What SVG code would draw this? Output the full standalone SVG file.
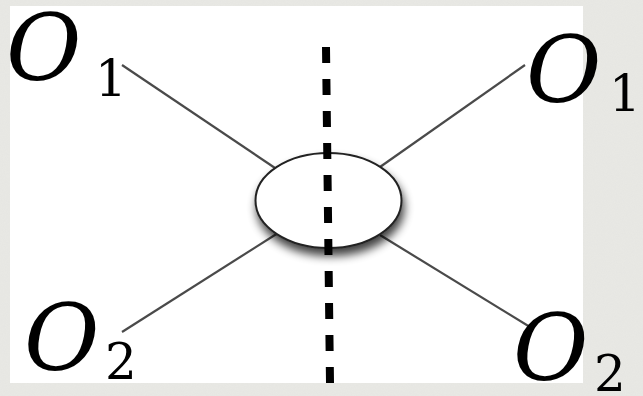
<svg xmlns="http://www.w3.org/2000/svg" width="643" height="396" viewBox="0 0 643 396">
<style>
text{font-family:"DejaVu Serif",serif;fill:#000}
.lbl{font-style:italic;font-size:92px}
.sub{font-size:50px}
.leg{stroke:#4a4a4a;stroke-width:2.2;fill:none}
</style>
<defs>
<filter id="noise" x="0" y="0" width="100%" height="100%">
<feTurbulence type="fractalNoise" baseFrequency="0.9" numOctaves="2" seed="3"/>
<feColorMatrix type="matrix" values="0 0 0 0 0.5  0 0 0 0 0.5  0 0 0 0 0.48  0 0 0 0.08 0"/>
<feComposite in2="SourceGraphic" operator="in"/>
</filter>
<filter id="shadow" x="-30%" y="-30%" width="160%" height="180%">
<feGaussianBlur in="SourceAlpha" stdDeviation="5"/>
<feOffset dx="2" dy="7" result="b"/>
<feComponentTransfer><feFuncA type="linear" slope="0.75"/></feComponentTransfer>
<feMerge><feMergeNode/><feMergeNode in="SourceGraphic"/></feMerge>
</filter>
</defs>
<rect width="643" height="396" fill="#e9e9e5"/>
<rect width="643" height="396" fill="#fff" filter="url(#noise)"/>
<rect x="10" y="6" width="573" height="377" fill="#fff"/>
<g id="connectors">
<line class="leg" x1="122" y1="65" x2="278" y2="170"/>
<line class="leg" x1="525" y1="65" x2="380" y2="167"/>
<line class="leg" x1="122" y1="332" x2="278" y2="233"/>
<line class="leg" x1="530" y1="327" x2="380" y2="235"/>
</g>
<g id="blob">
<ellipse cx="328.5" cy="200.5" rx="73" ry="47.5" fill="#fff" stroke="#222" stroke-width="2" filter="url(#shadow)"/>
</g>
<g id="cut">
<line x1="326" y1="47" x2="330" y2="383" stroke="#000" stroke-width="8" stroke-dasharray="16 16"/>
</g>
<g id="o1-left"><text class="lbl" x="6" y="80">O</text><text class="sub" x="95" y="96">1</text></g>
<g id="o1-right"><text class="lbl" x="526" y="102">O</text><text class="sub" x="609" y="111">1</text></g>
<g id="o2-left"><text class="lbl" x="24" y="370">O</text><text class="sub" x="105" y="379">2</text></g>
<g id="o2-right"><text class="lbl" x="513" y="380">O</text><text class="sub" x="594" y="391">2</text></g>
</svg>
